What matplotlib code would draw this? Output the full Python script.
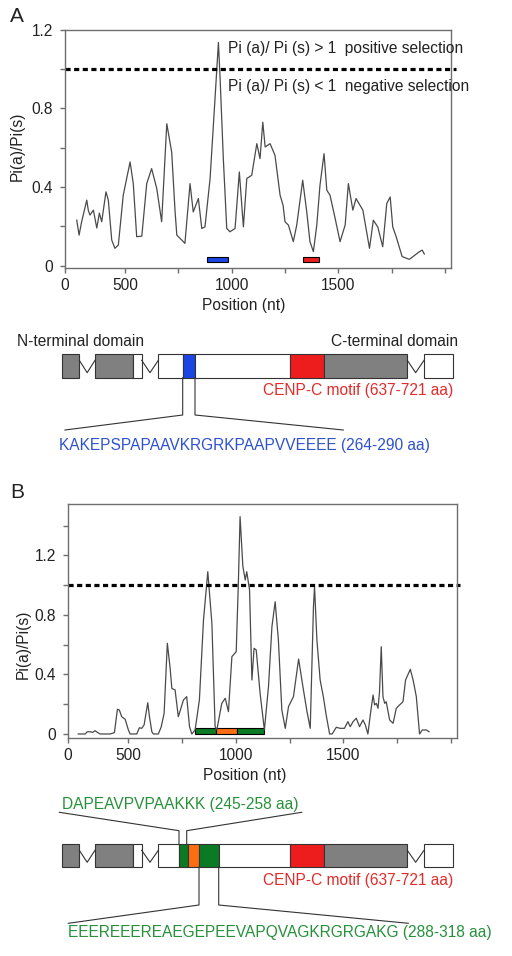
import matplotlib
matplotlib.use('Agg')
import matplotlib.pyplot as plt
from matplotlib.patches import Rectangle

plt.rcParams['font.family'] = ['Liberation Sans', 'DejaVu Sans']

# ---------------- data ----------------
a_pos = [274, 285, 297, 321, 328, 336, 352, 368, 380, 391, 411, 422, 438, 453, 469, 492, 524, 539, 555, 579,
         602, 625, 649, 672, 696, 719, 735, 743, 766, 781, 805, 820, 844, 860, 875, 899, 922, 938, 946, 961,
         977, 992, 1016, 1036, 1055, 1071, 1094, 1118, 1133, 1146, 1157, 1180, 1203, 1227, 1241, 1250, 1266,
         1289, 1305, 1333, 1352, 1367, 1383, 1399, 1414, 1433, 1446, 1461, 1485, 1508, 1532, 1547, 1568, 1583,
         1615, 1646, 1664, 1685, 1708, 1727, 1743, 1755, 1771, 1799, 1833, 1880, 1893, 1903]
a_val = [0.231, 0.155, 0.223, 0.333, 0.282, 0.257, 0.282, 0.191, 0.267, 0.223, 0.375, 0.333, 0.130, 0.088,
         0.105, 0.358, 0.527, 0.417, 0.147, 0.150, 0.417, 0.493, 0.392, 0.223, 0.721, 0.577, 0.273, 0.155,
         0.130, 0.113, 0.417, 0.273, 0.341, 0.189, 0.197, 0.443, 0.848, 1.134, 0.949, 0.544, 0.189, 0.172,
         0.189, 0.476, 0.197, 0.443, 0.459, 0.620, 0.544, 0.729, 0.603, 0.620, 0.561, 0.358, 0.307, 0.223,
         0.206, 0.122, 0.206, 0.434, 0.273, 0.122, 0.071, 0.206, 0.409, 0.569, 0.383, 0.358, 0.240, 0.122,
         0.206, 0.417, 0.282, 0.341, 0.282, 0.088, 0.231, 0.196, 0.096, 0.316, 0.349, 0.197, 0.147, 0.046,
         0.032, 0.071, 0.079, 0.059]

b_pos = [268, 300, 310, 323, 335, 346, 357, 369, 416, 436, 450, 459, 470, 486, 501, 509, 540, 552, 563, 574,
         591, 599, 610, 617, 640, 653, 667, 682, 695, 703, 718, 733, 757, 772, 785, 796, 811, 831, 850, 870,
         889, 904, 912, 935, 951, 966, 982, 1002, 1012, 1020, 1033, 1044, 1051, 1064, 1075, 1085, 1095, 1113,
         1133, 1152, 1168, 1183, 1198, 1214, 1230, 1245, 1268, 1292, 1312, 1331, 1346, 1361, 1366, 1377, 1392,
         1408, 1420, 1436, 1448, 1467, 1485, 1505, 1521, 1532, 1545, 1560, 1575, 1591, 1602, 1614, 1625, 1638,
         1645, 1653, 1661, 1668, 1676, 1684, 1692, 1699, 1715, 1731, 1746, 1761, 1777, 1789, 1811, 1824, 1839,
         1854, 1867, 1886, 1898]
b_val = [0.0, 0.0, 0.015, 0.015, 0.011, 0.022, 0.011, 0.0, 0.0, 0.009, 0.166, 0.161, 0.116, 0.099, 0.027, 0.0,
         0.0, 0.042, 0.038, 0.061, 0.210, 0.116, 0.015, 0.0, 0.0, 0.045, 0.139, 0.610, 0.442, 0.306, 0.296,
         0.116, 0.229, 0.251, 0.049, 0.0, 0.027, 0.229, 0.766, 1.091, 0.744, 0.049, 0.027, 0.206, 0.240, 0.150,
         0.520, 0.553, 1.013, 1.461, 1.125, 1.035, 1.091, 0.968, 0.363, 0.576, 0.565, 0.274, 0.027, 0.318,
         0.721, 0.889, 0.632, 0.161, 0.038, 0.184, 0.251, 0.504, 0.318, 0.150, 0.038, 0.856, 0.990, 0.632,
         0.363, 0.242, 0.128, 0.0, 0.0, 0.045, 0.038, 0.038, 0.083, 0.049, 0.083, 0.106, 0.049, 0.094, 0.061,
         0.0, 0.128, 0.262, 0.195, 0.206, 0.173, 0.284, 0.587, 0.251, 0.206, 0.217, 0.094, 0.072, 0.173, 0.195,
         0.217, 0.363, 0.435, 0.363, 0.251, 0.0, 0.027, 0.027, 0.015]

# highlighted regions on position axis (nt)
a_regions = [(886, 984, 'blue'), (1333, 1408, 'red')]
b_regions = [(811, 907, 'green'), (907, 1005, 'orange'), (1005, 1133, 'green')]

xtick_major = [219, 500, 1000, 1500]
xtick_labels = ['0', '500', '1000', '1500']
xtick_minor = [750, 1250, 1750, 2000]

# ---------------- style ----------------
COL = {'blue': '#1b45e4', 'red': '#ee1d1d', 'green': '#0b7a24', 'orange': '#ff6d12',
       'grey': '#808080', 'white': '#ffffff'}
TXT_BLUE = '#2f52cf'
TXT_RED = '#e42a2a'
TXT_GREEN = '#27913a'
FS = 11.2
SPINE = '#6e6e6e'

W, H = 512, 956
fig = plt.figure(figsize=(W / 100, H / 100), dpi=100)


def px_axes(l, t, r, b):
    return fig.add_axes([l / W, 1 - b / H, (r - l) / W, (b - t) / H])


def style_axes(ax, ylim, yticks_major, yticks_minor):
    ax.set_xlim(219, 2028)
    ax.set_ylim(*ylim)
    ax.set_xticks(xtick_major)
    ax.set_xticklabels(xtick_labels)
    ax.set_xticks(xtick_minor, minor=True)
    ax.set_yticks(yticks_major)
    ax.set_yticklabels(['0' if v == 0 else f'{v:.1f}' for v in yticks_major])
    ax.set_yticks(yticks_minor, minor=True)
    for s in ax.spines.values():
        s.set_color(SPINE)
        s.set_linewidth(1.0)
    ax.tick_params(which='both', length=3.5, width=1.0, color=SPINE, labelsize=FS, labelcolor='#222222')
    ax.tick_params(axis='x', which='both', pad=4)
    ax.tick_params(axis='y', which='both', pad=5)


# ---------------- panel A plot ----------------
axA = px_axes(65, 29.5, 451, 268)
axA.plot(a_pos, a_val, color='#4a4a4a', lw=0.9)
axA.axhline(1.0, xmin=0, xmax=1.013, color='black', lw=2.3, dashes=(1.6, 1.1), clip_on=False)
for x0, x1, c in a_regions:
    axA.add_patch(Rectangle((x0, 0.019), x1 - x0, 0.027, facecolor=COL[c], edgecolor='black', lw=0.8))
style_axes(axA, (-0.012, 1.197), [0, 0.4, 0.8, 1.2], [0.2, 0.6, 1.0])
axA.text(982, 1.105, 'Pi (a)/ Pi (s) > 1  positive selection', fontsize=FS, va='center', color='#222222')
axA.text(982, 0.912, 'Pi (a)/ Pi (s) < 1  negative selection', fontsize=FS, va='center', color='#222222')
axA.set_xlabel('Position (nt)', fontsize=FS, va='center', color='#222222')
axA.xaxis.set_label_coords(0.464, -0.159)
axA.set_ylabel('Pi(a)/Pi(s)', fontsize=FS, va='center', color='#222222')
axA.yaxis.set_label_coords(-0.124, 0.511)

# ---------------- panel B plot ----------------
axB = px_axes(67.7, 504, 457, 738)
axB.plot(b_pos, b_val, color='#4a4a4a', lw=0.9)
axB.axhline(1.0, xmin=0, xmax=1.008, color='black', lw=2.3, dashes=(1.6, 1.1), clip_on=False)
for x0, x1, c in b_regions:
    axB.add_patch(Rectangle((x0, 0.0), x1 - x0, 0.04, facecolor=COL[c], edgecolor='black', lw=0.8))
style_axes(axB, (-0.027, 1.546), [0, 0.4, 0.8, 1.2], [0.2, 0.6, 1.0, 1.4])
axB.set_xlabel('Position (nt)', fontsize=FS, va='center', color='#222222')
axB.xaxis.set_label_coords(0.455, -0.161)
axB.set_ylabel('Pi(a)/Pi(s)', fontsize=FS, va='center', color='#222222')
axB.yaxis.set_label_coords(-0.115, 0.402)

# ---------------- gene diagrams (overlay in pixel units) ----------------
ov = fig.add_axes([0, 0, 1, 1])
ov.set_xlim(0, W)
ov.set_ylim(H, 0)
ov.axis('off')
ov.patch.set_alpha(0)

common_exons = [(62.3, 79.3, 'grey'), (95, 133.3, 'grey'), (133.3, 141.7, 'white')]
tail_exons = [(290, 324.3, 'red'), (324.3, 407.3, 'grey'), (424, 453.3, 'white')]
exons_A = common_exons + [(158.3, 182.7, 'white'), (182.7, 195, 'blue'), (195, 290, 'white')] + tail_exons
exons_B = common_exons + [(158.3, 179, 'white'), (179, 187.7, 'green'), (187.7, 199, 'orange'),
                          (199, 218.7, 'green'), (218.7, 290, 'white')] + tail_exons
introns = [(79.3, 95), (141.7, 158.3), (407.3, 424)]


def draw_gene(top, bot, exons):
    for x0, x1, c in exons:
        ov.add_patch(Rectangle((x0, top), x1 - x0, bot - top, facecolor=COL[c],
                               edgecolor='#333333', lw=0.8))
    mid = (top + bot) / 2
    for x0, x1 in introns:
        ov.plot([x0, (x0 + x1) / 2, x1], [top + 6, bot - 5, top + 6], color='#333333', lw=0.8)


# A diagram
draw_gene(354.3, 377.7, exons_A)
ov.text(16.7, 341.7, 'N-terminal domain', fontsize=FS, va='center', ha='left', color='#222222')
ov.text(457.7, 341.7, 'C-terminal domain', fontsize=FS, va='center', ha='right', color='#222222')
ov.text(453.3, 391, 'CENP-C motif (637-721 aa)', fontsize=FS, va='center', ha='right', color=TXT_RED)
ov.plot([182.7, 182.7, 65], [377.7, 415, 430], color='#333333', lw=0.8)
ov.plot([195, 195, 343.3], [377.7, 415, 430], color='#333333', lw=0.8)
ov.text(59.3, 445, 'KAKEPSPAPAAVKRGRKPAAPVVEEEE (264-290 aa)', fontsize=FS, va='center', ha='left',
        color=TXT_BLUE)

# B diagram
draw_gene(844.3, 867.3, exons_B)
ov.text(453.3, 880, 'CENP-C motif (637-721 aa)', fontsize=FS, va='center', ha='right', color=TXT_RED)
ov.text(62.3, 805, 'DAPEAVPVPAAKKK (245-258 aa)', fontsize=FS, va='center', ha='left', color=TXT_GREEN)
ov.plot([59.3, 179, 179], [812.3, 830.7, 844.3], color='#333333', lw=0.8)
ov.plot([301.7, 186.7, 186.7], [812.3, 830.7, 844.3], color='#333333', lw=0.8)
ov.plot([199, 199, 68.3], [867.3, 905, 923.3], color='#333333', lw=0.8)
ov.plot([218.7, 218.7, 408.3], [867.3, 905, 923.3], color='#333333', lw=0.8)
ov.text(68.3, 932.7, 'EEEREEEREAEGEPEEVAPQVAGKRGRGAKG (288-318 aa)', fontsize=FS, va='center', ha='left',
        color=TXT_GREEN)

# panel letters
ov.text(17, 16, 'A', fontsize=15, va='center', ha='center', color='#222222')
ov.text(17, 492, 'B', fontsize=15, va='center', ha='center', color='#222222')

fig.savefig('out.png', dpi=100)
